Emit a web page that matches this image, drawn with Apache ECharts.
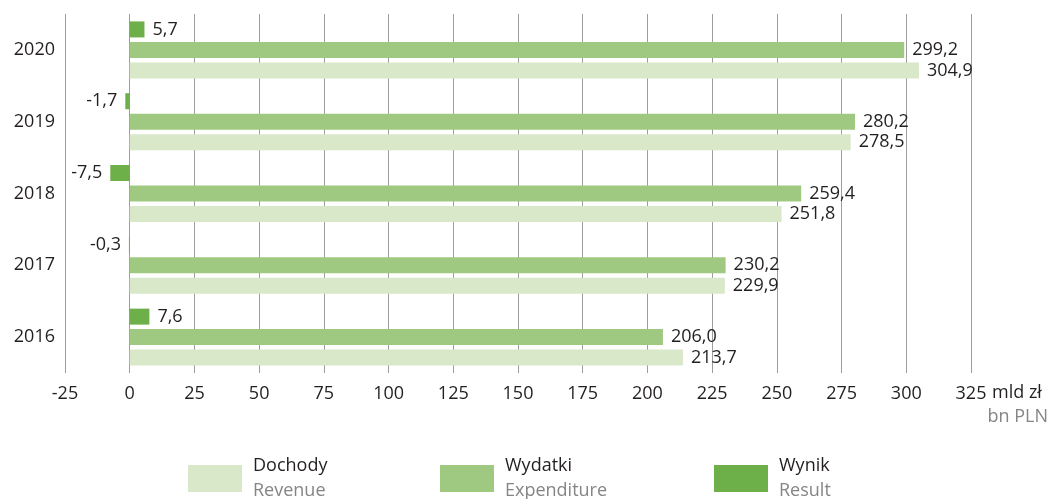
<!DOCTYPE html>
<html lang="pl">
<head>
    <meta charset="UTF-8">
    <title>Dochody, wydatki i wynik</title>
    <script src="https://cdn.jsdelivr.net/npm/echarts@6/dist/echarts.min.js"></script>
    <style>
        html, body { margin: 0; padding: 0; background: #fff; }
    </style>
</head>
<body>
    <div id="chart" style="width: 1051px; height: 499px;"></div>
    <script>
        // dane (mld zł)
        const years = ['2016', '2017', '2018', '2019', '2020'];
        const dochody = [213.7, 229.9, 251.8, 278.5, 304.9];
        const wydatki = [206.0, 230.2, 259.4, 280.2, 299.2];
        const wynik = [7.6, -0.3, -7.5, -1.7, 5.7];
        const seriesNames = ['Dochody', 'Wydatki', 'Wynik'];
        const seriesNamesEn = ['Revenue', 'Expenditure', 'Result'];
        const colors = ['#d9e8c9', '#9fc981', '#6daf48'];

        const font = '"Open Sans", "Noto Sans", sans-serif';
        const dark = '#231f20';

        const fmt = v => v.toFixed(1).replace('.', ',');

        function toData(arr) {
            return arr.map(v => ({
                value: v,
                label: { position: v < 0 ? 'left' : 'right' }
            }));
        }

        const myChart = echarts.init(document.getElementById('chart'));

        // pierwsza seria rysuje sie na gorze grupy -> kolejnosc odwrocona
        const seriesData = [dochody, wydatki, wynik];
        const series = [2, 1, 0].map(i => ({
            name: seriesNames[i],
            type: 'bar',
            data: toData(seriesData[i]),
            barWidth: 16,
            barGap: '28%',
            itemStyle: { color: colors[i] },
            label: {
                show: true,
                distance: 8,
                color: dark,
                fontFamily: font,
                fontSize: 18,
                formatter: p => fmt(p.value)
            }
        }));

        // osobna legenda dla kazdej serii
        const legendLeft = [188, 440, 714];
        const legends = seriesNames.map((n, i) => ({
            data: [n],
            left: legendLeft[i],
            top: 457,
            padding: 0,
            icon: 'rect',
            itemWidth: 54,
            itemHeight: 27,
            selectedMode: false,
            formatter: name => '{a|' + name + '}\n{b|' + seriesNamesEn[i] + '}',
            textStyle: {
                rich: {
                    a: { fontFamily: font, fontSize: 18, color: dark, lineHeight: 25, padding: [0, 0, 0, 6] },
                    b: { fontFamily: font, fontSize: 18, color: '#858585', lineHeight: 25, padding: [0, 0, 0, 6] }
                }
            }
        }));

        let option = {
            animation: false,
            grid: {
                left: 65,
                right: 80,
                top: 14,
                bottom: 126
            },
            legend: legends,
            xAxis: {
                type: 'value',
                min: -25,
                max: 325,
                interval: 25,
                axisLine: { show: false },
                axisTick: { show: false },
                splitLine: { lineStyle: { color: '#9d9d9d', width: 1 } },
                axisLabel: {
                    color: dark,
                    fontFamily: font,
                    fontSize: 18,
                    margin: 12
                }
            },
            yAxis: {
                type: 'category',
                data: years,
                axisLine: { show: false },
                axisTick: { show: false },
                axisLabel: {
                    color: dark,
                    fontFamily: font,
                    fontSize: 18,
                    margin: 10
                }
            },
            graphic: [
                {
                    type: 'text',
                    left: 992,
                    top: 384,
                    style: { text: 'mld zł', fill: dark, font: '18px ' + font }
                },
                {
                    type: 'text',
                    right: 3,
                    top: 408,
                    style: { text: 'bn PLN', fill: '#858585', font: '18px ' + font }
                }
            ],
            series: series
        };

        myChart.setOption(option);
    </script>
</body>
</html>
